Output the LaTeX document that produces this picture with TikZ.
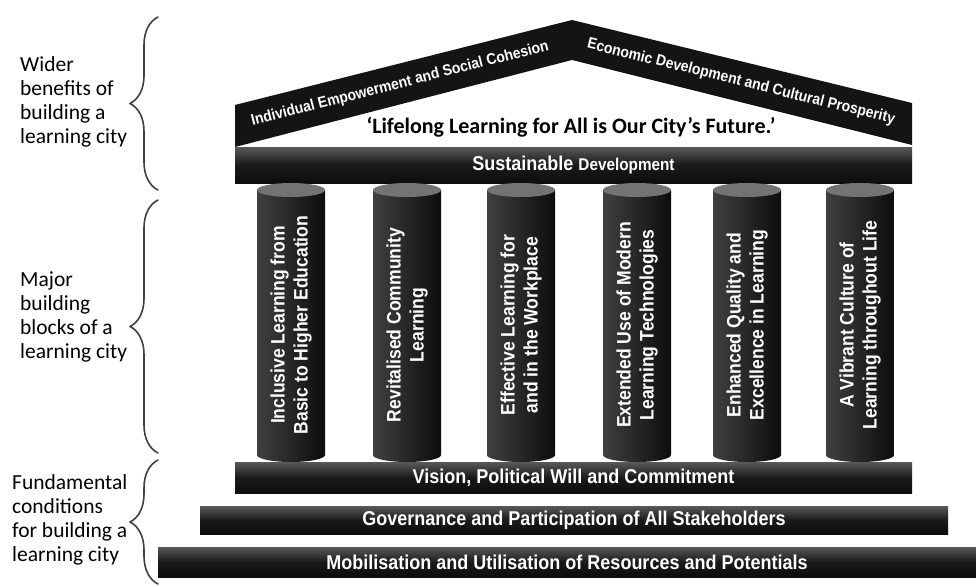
\documentclass[tikz,border=0pt]{standalone}
\usepackage{fontspec}
\setmainfont{Carlito}
\newfontfamily\pillarfont[FakeStretch=0.9]{Liberation Sans}
\usetikzlibrary{decorations.pathreplacing}

\begin{document}
\begin{tikzpicture}[x=1pt,y=-1pt,line join=round,line cap=round,
	slab/.style={top color=black!65,bottom color=black!95,middle color=black!90,inner sep=0pt,text=white,font=\pillarfont\bfseries\fontsize{20}{20}\selectfont},
	pillar/.style={left color=black!75,right color=black!95},
	pillartext/.style={text=white,rotate=90,align=center,font=\pillarfont\bfseries\fontsize{19.5}{23}\selectfont},
	rooftext/.style={text=white,font=\pillarfont\bfseries\fontsize{15.5}{15.5}\selectfont},
	side/.style={align=left,anchor=west,inner sep=0pt,font=\fontsize{21.5}{24}\selectfont},
	curly/.style={decorate,decoration={brace,amplitude=28pt},line width=1.6pt,draw=black!75}]
	\useasboundingbox[fill=white] (0,0) rectangle (976,586);
	\coordinate (A) at (572,20);
	\coordinate (A') at (572,60);
	\coordinate (L) at (235,105);
	\coordinate (L') at (235,147);
	\coordinate (R) at (912,103);
	\coordinate (R') at (912,145);
	\fill[black!92] (L') -- (L) -- (A) -- (R) -- (R') -- (A') -- cycle;
	\node[rooftext,rotate=14.3] (roofL) at (400,84) {Individual Empowerment and Social Cohesion};
	\node[rooftext,rotate=-13.9] (roofR) at (741,82) {Economic Development and Cultural Prosperity};
	\node (motto) at (571,127) {\fontsize{22}{22}\selectfont\bfseries ‘Lifelong Learning for All is Our City’s Future.’};
	\node[slab,minimum width=677,minimum height=36] (sd) at (573.5,165) {Sustainable {\fontsize{17}{17}\selectfont Development}};
	\node[slab,minimum width=677,minimum height=31] (vision) at (573.5,477.5) {Vision, Political Will and Commitment};
	\node[slab,minimum width=748,minimum height=28] (gov) at (574,520) {Governance and Participation of All Stakeholders};
	\node[slab,minimum width=818,minimum height=30] (mob) at (567,562) {Mobilisation and Utilisation of Resources and Potentials};
	\foreach \x/\t [count=\i] in {291/{Inclusive Learning from\\Basic to Higher Education},
		407/{Revitalised Community\\Learning},
		521/{Effective Learning for\\and in the Workplace},
		637/{Extended Use of Modern\\Learning Technologies},
		747/{Enhanced Quality and\\Excellence in Learning},
		860/{A Vibrant Culture of\\Learning throughout Life}}{
		\shade[pillar] (\x-34,190) -- (\x-34,455) arc[start angle=180,end angle=360,x radius=34pt,y radius=7pt] -- (\x+34,190) -- cycle;
		\fill[black!55] (\x,190) ellipse[x radius=34pt,y radius=7pt];
		\node[pillartext] (p\i) at (\x,325) {\t};
	}
	\draw[curly] (158,190) -- (158,17);
	\draw[curly] (158,453) -- (158,200);
	\draw[curly] (158,584) -- (158,460);
	\node[side] (wider) at (20,102) {Wider\\benefits of\\building a\\learning city};
	\node[side] (major) at (20,317) {Major\\building\\blocks of a\\learning city};
	\node[side] (fund) at (12,520) {Fundamental\\conditions\\for building a\\learning city};
\end{tikzpicture}
\end{document}
